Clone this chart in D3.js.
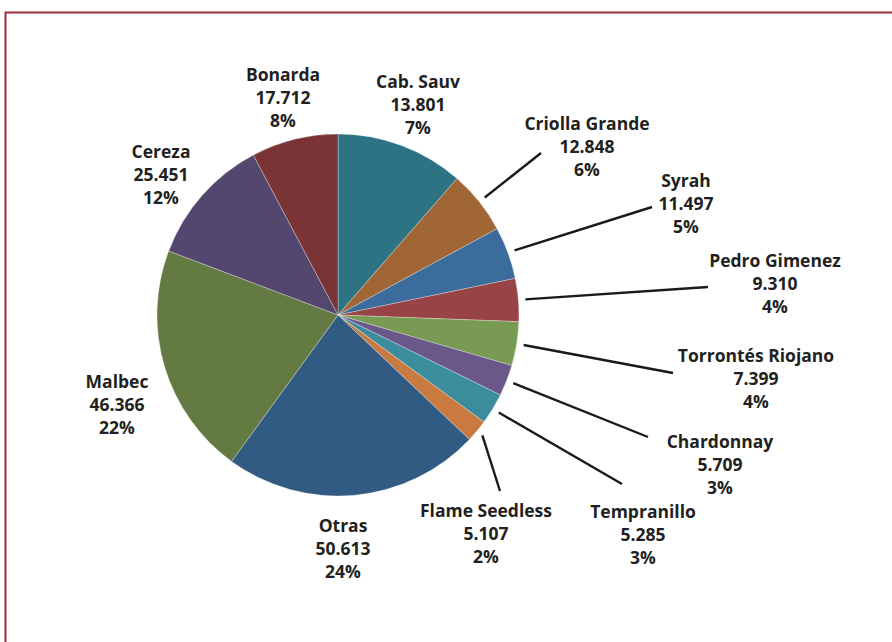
<!DOCTYPE html>
<html>
<head>
<meta charset="utf-8">
<script src="https://cdn.jsdelivr.net/npm/d3@7"></script>
<style>
  body { margin: 0; background: #fff; }
  svg text { font-family: "Open Sans", Lato, sans-serif; font-weight: 700; fill: #231f20; }
</style>
</head>
<body>
<div id="chart"></div>
<script>
// varieties, clockwise from 12 o'clock
var varieties = ["Cab. Sauv", "Criolla Grande", "Syrah", "Pedro Gimenez", "Torrontés Riojano",
    "Chardonnay", "Tempranillo", "Flame Seedless", "Otras", "Malbec", "Cereza", "Bonarda"];
// printed values and percents
var hectares = ["13.801", "12.848", "11.497", "9.310", "7.399", "5.709", "5.285", "5.107",
    "50.613", "46.366", "25.451", "17.712"];
var percents = ["7%", "6%", "5%", "4%", "4%", "3%", "3%", "2%", "24%", "22%", "12%", "8%"];
// slice sizes as drawn in the picture (% of the circle)
var shares = [11.42, 5.67, 4.67, 3.83, 3.92, 2.78, 2.78, 2.00, 22.94, 20.75, 11.50, 7.75];
var colors = ["#2d7384", "#a06636", "#3b6c9c", "#984446", "#789a52", "#6a588a",
    "#3b8c9d", "#c87a41", "#325b83", "#637b43", "#54476f", "#7a3435"];

// label anchor (centre of first text line) and leader end, null = no leader
var labelAt = [[418, 82], [587, 124], [686, 181], [775, 261], [756, 356], [720, 442],
    [643, 512], [486, 511], [343, 526], [117, 382], [161, 152], [283, 75]];
var leaderEnd = [null, [541, 153], [652, 207], [708, 287], [673, 373], [648, 437],
    [622, 484], [500, 491], null, null, null, null];

var width = 892, height = 642;
var cx = 338, cy = 315, radius = 181;

var svg = d3.select("#chart").append("svg")
    .attr("width", width)
    .attr("height", height);

// frame
svg.append("path")
    .attr("d", "M5.5," + height + "V12.5H" + width)
    .attr("fill", "none")
    .attr("stroke", "#9e2b3b")
    .attr("stroke-width", 2);

var pie = d3.pie().sort(null).value(function (d) { return d; });
var arcs = pie(shares);

var arc = d3.arc().innerRadius(0).outerRadius(radius);
var outer = d3.arc().innerRadius(radius + 7).outerRadius(radius + 7);

var g = svg.append("g").attr("transform", "translate(" + cx + "," + cy + ")");

g.selectAll(".slice")
    .data(arcs)
    .enter().append("path")
    .attr("class", "slice")
    .attr("d", arc)
    .attr("fill", function (d, i) { return colors[i]; })
    .attr("stroke", "#ffffff")
    .attr("stroke-opacity", 0.5)
    .attr("stroke-width", 0.6);

// leader lines
arcs.forEach(function (d, i) {
    if (!leaderEnd[i]) return;
    var p = outer.centroid(d);
    svg.append("line")
        .attr("x1", cx + p[0]).attr("y1", cy + p[1])
        .attr("x2", leaderEnd[i][0]).attr("y2", leaderEnd[i][1])
        .attr("stroke", "#1a1a1a")
        .attr("stroke-width", 2.4);
});

// labels
var labels = svg.selectAll(".label")
    .data(varieties)
    .enter().append("text")
    .attr("class", "label")
    .attr("text-anchor", "middle")
    .attr("font-size", "17.5px")
    .attr("transform", function (d, i) { return "translate(" + labelAt[i][0] + "," + (labelAt[i][1] + 6) + ")"; });

labels.append("tspan").attr("x", 0).attr("dy", 0).text(function (d) { return d; });
labels.append("tspan").attr("x", 0).attr("dy", 23).text(function (d, i) { return hectares[i]; });
labels.append("tspan").attr("x", 0).attr("dy", 22.5).text(function (d, i) { return percents[i]; });
</script>
</body>
</html>
